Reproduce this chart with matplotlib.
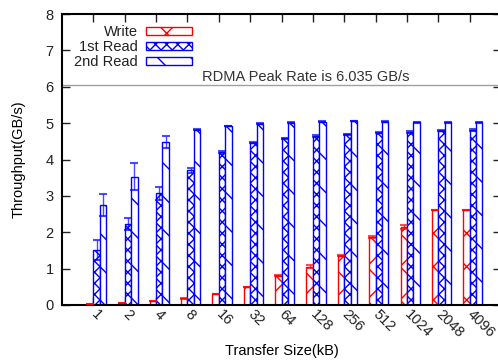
import matplotlib
matplotlib.use("Agg")
import matplotlib.pyplot as plt
import numpy as np

plt.rcParams.update({
    "font.family": ["Liberation Sans", "DejaVu Sans"], "font.size": 10.5,
    "hatch.linewidth": 1.0, "text.color": "#222222",
    "xtick.color": "#222222", "ytick.color": "#222222",
})

sizes = ["1", "2", "4", "8", "16", "32", "64", "128", "256", "512", "1024", "2048", "4096"]
write = [0.03, 0.05, 0.10, 0.18, 0.30, 0.50, 0.81, 1.05, 1.36, 1.88, 2.15, 2.61, 2.61]
write_err = [0.0, 0.0, 0.0, 0.01, 0.0, 0.0, 0.01, 0.04, 0.01, 0.03, 0.06, 0.01, 0.01]
read1 = [1.52, 2.22, 3.07, 3.70, 4.21, 4.46, 4.58, 4.65, 4.69, 4.74, 4.76, 4.79, 4.81]
read1_err = [0.27, 0.16, 0.18, 0.07, 0.02, 0.02, 0.02, 0.02, 0.02, 0.02, 0.02, 0.02, 0.02]
read2 = [2.75, 3.53, 4.48, 4.82, 4.92, 4.98, 5.01, 5.04, 5.06, 5.04, 5.02, 5.02, 5.02]
read2_err = [0.29, 0.38, 0.17, 0.01, 0.01, 0.01, 0.01, 0.01, 0.01, 0.01, 0.01, 0.01, 0.01]
peak = 6.035

RED, BLUE = "#ff0000", "#0000ff"

fig = plt.figure(figsize=(4.98, 3.6), dpi=100)
ax = fig.add_axes([62 / 498, 55 / 360, 439 / 498, 291 / 360])

x = np.arange(len(sizes))
w = 0.205
series = [
    (write, write_err, -w / 2, RED, "x", "Write"),
    (read1, read1_err, w / 2, BLUE, "xxx", "1st Read"),
    (read2, read2_err, 1.5 * w, BLUE, "\\", "2nd Read"),
]
for vals, err, off, col, hatch, lab in series:
    ax.bar(x + off, vals, width=w, facecolor="white", edgecolor=col, hatch=hatch,
           linewidth=1.0, label=lab, zorder=2)
    ax.errorbar(x + off, vals, yerr=err, fmt="none", ecolor=col, alpha=0.7,
                elinewidth=1.0, capsize=2.8, capthick=1.5, zorder=3)

ax.axhline(peak, color="#a0a0a0", lw=1.0, zorder=1)
ax.text(6.76, peak + 0.04, "RDMA Peak Rate is 6.035 GB/s", ha="center", va="bottom",
        color="#333333")

ax.set_xlim(-1, 13)
ax.set_ylim(0, 8)
ax.set_xticks(x)
ax.set_xticklabels(sizes, rotation=-45, ha="left", va="center", rotation_mode="anchor")
ax.set_yticks(range(9))
ax.tick_params(direction="in", length=6, width=1, top=True, right=True)
ax.tick_params(axis="x", pad=5)
ax.tick_params(axis="y", pad=6)
for s in ax.spines.values():
    s.set_linewidth(1.5)

ax.set_xlabel("Transfer Size(kB)", va="center")
ax.xaxis.set_label_coords(0.501, (305 - 351) / 291)
ax.set_ylabel("Throughput(GB/s)", va="center")
ax.yaxis.set_label_coords((19 - 62) / 439, 0.5)

leg = ax.legend(loc="upper right", bbox_to_anchor=(193 / 498, 1 - 24 / 360),
                bbox_transform=fig.transFigure, markerfirst=False, frameon=True,
                facecolor="white", edgecolor="none", framealpha=1, fancybox=False,
                borderpad=0.1, labelspacing=0.05, handlelength=3.1, handleheight=0.5,
                handletextpad=0.6, borderaxespad=0)
leg.set_zorder(5)

fig.savefig("out.png", dpi=100)
